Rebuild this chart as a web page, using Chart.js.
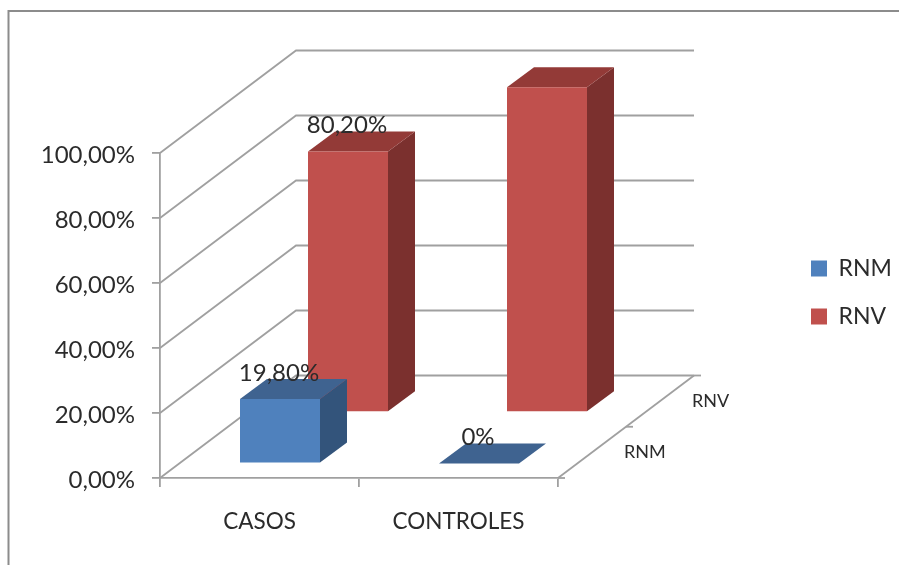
<!DOCTYPE html>
<html>
<head>
<meta charset="utf-8">
<style>
  html, body { margin: 0; padding: 0; background: #fff; }
  canvas { display: block; }
</style>
<script src="https://cdn.jsdelivr.net/npm/chart.js@4"></script>
</head>
<body>
<canvas id="chart" width="899" height="565"></canvas>
<script>
// Birth outcome shares per group
const categories = ['CASOS', 'CONTROLES'];
const seriesNames = ['RNM', 'RNV'];
const rnmValues = [19.8, 0];
const rnvValues = [80.2, 100];
const rnmLabels = ['19,80%', '0%'];
const rnvLabels = ['80,20%', ''];
const yTicks = [0, 20, 40, 60, 80, 100];

// Oblique projection used for the third (series) axis
const DEPTH_X = 136;
const DEPTH_Y = 102.5;
const BAR_DEPTH_X = 27;
const BAR_DEPTH_Y = 20;
const GRID_COLOR = '#a0a0a0';
const TEXT_COLOR = '#2b2b2b';
const FONT = 'Lato, "Noto Sans", sans-serif';
const faceColors = [
  { front: '#4f81bd', side: '#33547b', top: '#3f6390' },
  { front: '#c0504d', side: '#7b302e', top: '#933a37' }
];
const seriesLabels = [rnmLabels, rnvLabels];

// Screen offset of the centre of a series row on the depth axis
function rowOffset(i) {
  const f = (i + 0.5) / seriesNames.length;
  return { x: f * DEPTH_X, y: -f * DEPTH_Y };
}
function barOffset(i) {
  const r = rowOffset(i);
  return { x: r.x - BAR_DEPTH_X / 2, y: r.y + BAR_DEPTH_Y / 2 + 1 };
}
function poly(ctx, pts, fill) {
  ctx.beginPath();
  pts.forEach((p, k) => k ? ctx.lineTo(p[0], p[1]) : ctx.moveTo(p[0], p[1]));
  ctx.closePath();
  ctx.fillStyle = fill;
  ctx.fill();
}

const box3d = {
  id: 'box3d',
  beforeDraw(chart) {
    // Outer frame of the embedded chart object
    const { ctx } = chart;
    ctx.save();
    ctx.strokeStyle = '#8c8c8c';
    ctx.lineWidth = 2;
    ctx.beginPath();
    ctx.moveTo(8.5, chart.height);
    ctx.lineTo(8.5, 11);
    ctx.lineTo(chart.width, 11);
    ctx.stroke();
    ctx.restore();
  },
  afterLayout(chart) {
    // Legend floats in the free space right of the plot
    const lg = chart.legend;
    lg.left = 786;
    lg.top = 232;
    lg.right = 899;
    lg.bottom = 400;
  },
  beforeDatasetsDraw(chart) {
    // Side wall and back wall gridlines, plus the floor edge and depth axis
    const { ctx, chartArea: a, scales } = chart;
    ctx.save();
    ctx.strokeStyle = GRID_COLOR;
    ctx.lineWidth = 1.8;
    scales.y.ticks.forEach(t => {
      const y = scales.y.getPixelForValue(t.value);
      ctx.beginPath();
      ctx.moveTo(a.left, y);
      ctx.lineTo(a.left + DEPTH_X, y - DEPTH_Y);
      ctx.lineTo(a.right + DEPTH_X, y - DEPTH_Y);
      ctx.stroke();
    });
    ctx.beginPath();
    ctx.moveTo(a.right, a.bottom);
    ctx.lineTo(a.right + DEPTH_X, a.bottom - DEPTH_Y);
    ctx.stroke();
    for (let i = 0; i <= seriesNames.length; i++) {
      const f = i / seriesNames.length;
      const x = a.right + f * DEPTH_X;
      const y = a.bottom - f * DEPTH_Y;
      ctx.beginPath();
      ctx.moveTo(x, y);
      ctx.lineTo(x + 7, y);
      ctx.stroke();
    }
    ctx.fillStyle = TEXT_COLOR;
    ctx.font = '18px ' + FONT;
    ctx.textAlign = 'left';
    ctx.textBaseline = 'middle';
    seriesNames.forEach((name, i) => {
      const r = rowOffset(i);
      ctx.fillText(name, a.right + r.x + 32, a.bottom + r.y);
    });
    ctx.restore();
  },
  beforeDatasetDraw(chart, args) {
    // Shift the row back along the depth axis and add the box's top and side faces
    const { ctx } = chart;
    const i = args.index;
    const off = barOffset(i);
    const c = faceColors[i];
    ctx.save();
    ctx.translate(off.x, off.y);
    args.meta.data.forEach(bar => {
      const l = bar.x - bar.width / 2;
      const r = bar.x + bar.width / 2;
      poly(ctx, [[r, bar.y], [r + BAR_DEPTH_X, bar.y - BAR_DEPTH_Y],
                 [r + BAR_DEPTH_X, bar.base - BAR_DEPTH_Y], [r, bar.base]], c.side);
      poly(ctx, [[l, bar.y], [r, bar.y], [r + BAR_DEPTH_X, bar.y - BAR_DEPTH_Y],
                 [l + BAR_DEPTH_X, bar.y - BAR_DEPTH_Y]], c.top);
    });
  },
  afterDatasetDraw(chart) {
    chart.ctx.restore();
  },
  afterDatasetsDraw(chart) {
    // Value labels sit above the front top edge of each box
    const { ctx } = chart;
    ctx.save();
    ctx.fillStyle = TEXT_COLOR;
    ctx.font = '24px ' + FONT;
    ctx.textAlign = 'center';
    ctx.textBaseline = 'middle';
    seriesNames.forEach((_, i) => {
      const off = barOffset(i);
      chart.getDatasetMeta(i).data.forEach((bar, k) => {
        const text = seriesLabels[i][k];
        if (text) ctx.fillText(text, bar.x + off.x - 1, bar.y + off.y - 26);
      });
    });
    ctx.restore();
  }
};

new Chart(document.getElementById('chart'), {
  type: 'bar',
  data: {
    labels: categories,
    datasets: [
      { label: seriesNames[0], data: rnmValues, backgroundColor: faceColors[0].front },
      { label: seriesNames[1], data: rnvValues, backgroundColor: faceColors[1].front }
    ]
  },
  options: {
    responsive: false,
    animation: false,
    layout: { padding: { top: 153, right: 341, left: 0, bottom: 0 } },
    datasets: {
      bar: {
        grouped: false,
        clip: false,
        borderWidth: 0,
        barPercentage: 80 / 199,
        categoryPercentage: 1
      }
    },
    scales: {
      x: {
        afterFit(s) { s.height = 87; },
        grid: { drawOnChartArea: false, drawTicks: true, tickLength: 9, color: GRID_COLOR, lineWidth: 1.8 },
        border: { color: GRID_COLOR, width: 1.8 },
        ticks: { color: TEXT_COLOR, font: { family: FONT, size: 22.5 }, padding: 21, maxRotation: 0, autoSkip: false }
      },
      y: {
        min: 0,
        max: 100,
        afterFit(s) { s.width = 160; },
        afterBuildTicks(s) { s.ticks = yTicks.map(value => ({ value })); },
        grid: { drawOnChartArea: false, drawTicks: true, tickLength: 8, color: GRID_COLOR, lineWidth: 1.8 },
        border: { color: GRID_COLOR, width: 1.8 },
        ticks: {
          color: TEXT_COLOR,
          font: { family: FONT, size: 24 },
          padding: 17,
          labelOffset: 2,
          callback: v => v.toFixed(2).replace('.', ',') + '%'
        }
      }
    },
    plugins: {
      tooltip: { enabled: false },
      title: { display: false },
      legend: {
        position: 'chartArea',
        align: 'start',
        labels: {
          boxWidth: 16,
          boxHeight: 16,
          padding: 25,
          color: TEXT_COLOR,
          font: { family: FONT, size: 23 }
        }
      }
    }
  },
  plugins: [box3d]
});
</script>
</body>
</html>
